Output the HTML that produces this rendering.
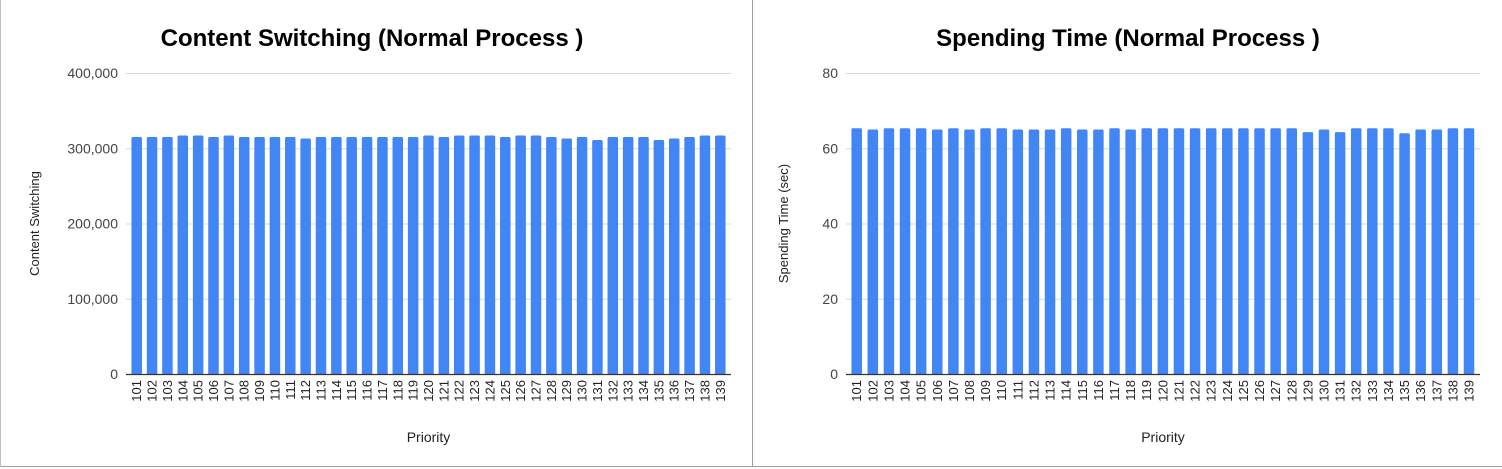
<!DOCTYPE html>
<html><head><meta charset="utf-8"><style>
body{margin:0;width:1502px;height:469px;background:#fff;overflow:hidden;font-family:"Liberation Sans",Arial,sans-serif}
svg{position:absolute;left:0;top:0}
</style></head><body>
<svg id="s" width="1502" height="469">
<line x1="752.5" y1="0" x2="752.5" y2="467" stroke="#9e9e9e"/>
<line x1="0" y1="466.5" x2="1502" y2="466.5" stroke="#9e9e9e"/>
<line x1="0.5" y1="0" x2="0.5" y2="467" stroke="#bdbdbd"/>
</svg>
<script>
const categories=[];for(let i=101;i<=139;i++)categories.push(String(i));
const switchValues=[315000,315000,315000,317000,317000,315000,317000,315000,315000,315000,315000,313000,315000,315000,315000,315000,315000,315000,315000,317000,315000,317000,317000,317000,315000,317000,317000,315000,313000,315000,311000,315000,315000,315000,311000,313000,315000,317000,317000];
const timeValues=[65.3,65,65.3,65.3,65.3,65,65.3,65,65.3,65.3,65,65,65,65.3,65,65,65.3,65,65.3,65.3,65.3,65.3,65.3,65.3,65.3,65.3,65.3,65.3,64.3,65,64.3,65.3,65.3,65.3,64,65,65,65.3,65.3];
const switchTicks=[0,100000,200000,300000,400000];
const timeTicks=[0,20,40,60,80];
const NS="http://www.w3.org/2000/svg";
const svg=document.getElementById('s');
function mk(tag,attrs,parent){const e=document.createElementNS(NS,tag);for(const k in attrs)e.setAttribute(k,attrs[k]);(parent||svg).appendChild(e);return e;}
function chart(cfg){
  const g=mk('g',{});
  
  
  const x0=cfg.x0,x1=cfg.x1,yTop=73,yBot=374,max=cfg.ticks[cfg.ticks.length-1];
  const y=v=>yBot-(v/max)*(yBot-yTop);
  const n=cfg.cats.length;
  const xc=i=>cfg.c0+(cfg.c1-cfg.c0)*i/(n-1);
  const t=mk('text',{x:cfg.cx,y:46,'text-anchor':'middle','font-size':'24','font-weight':'bold',fill:'#000'},g);
  t.textContent=cfg.title;
  
  
  cfg.ticks.forEach(v=>{
    const l=mk('line',{x1:x0,x2:x1,y1:y(v)+0.5,y2:y(v)+0.5,stroke:'#d9d9d9'},g);
    
    
    const tx=mk('text',{x:x0-8,y:y(v)+5,'text-anchor':'end','font-size':'14',fill:'#444'},g);
    tx.textContent=cfg.fmt(v);
    
    
  });
  cfg.vals.forEach((v,i)=>{
    const w=10.5,top=y(v);
    const r=mk('path',{d:`M${xc(i)-w/2},${yBot} V${top+1.5} Q${xc(i)-w/2},${top} ${xc(i)-w/2+1.5},${top} H${xc(i)+w/2-1.5} Q${xc(i)+w/2},${top} ${xc(i)+w/2},${top+1.5} V${yBot} Z`,fill:'#4285f4'},g);
    
    
    const lb=mk('text',{x:0,y:0,'font-size':'13',fill:'#222','text-anchor':'end',transform:`translate(${xc(i)+4.5},${yBot+6}) rotate(-90)`},g);
    lb.textContent=cfg.cats[i];
    
    
  });
  const ax=mk('line',{x1:x0,x2:x1,y1:yBot+0.5,y2:yBot+0.5,stroke:'#333','stroke-width':1.2},g);
  
  
  const xt=mk('text',{x:(x0+x1)/2,y:442,'text-anchor':'middle','font-size':'14',fill:'#222'},g);
  xt.textContent='Priority';
  
  
  const yt=mk('text',{x:0,y:0,'text-anchor':'middle','font-size':'13',fill:'#222',transform:`translate(${cfg.ytx},${(yTop+yBot)/2}) rotate(-90)`},g);
  yt.textContent=cfg.ytitle;
  
  
}
chart({id:'content-switching',x0:126,x1:731,c0:136.7,c1:720.3,cx:372,title:'Content Switching (Normal Process )',cats:categories,vals:switchValues,ticks:switchTicks,fmt:v=>v.toLocaleString('en-US'),ytitle:'Content Switching',ytx:39});
chart({id:'spending-time',x0:846,x1:1480,c0:856.7,c1:1469,cx:1128,title:'Spending Time (Normal Process )',cats:categories,vals:timeValues,ticks:timeTicks,fmt:v=>String(v),ytitle:'Spending Time (sec)',ytx:788});
</script>
</body></html>
